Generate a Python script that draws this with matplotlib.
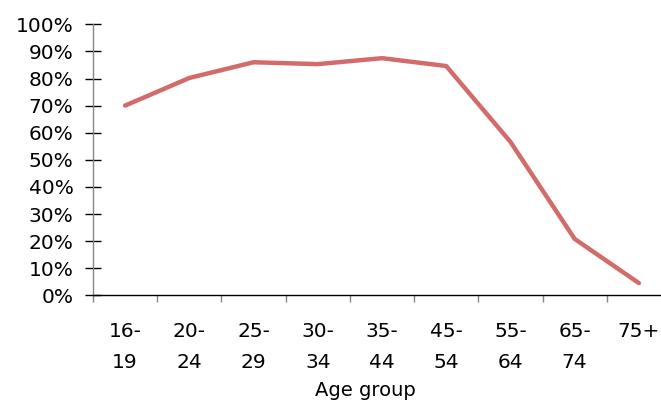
import matplotlib
matplotlib.use("Agg")
import matplotlib.pyplot as plt
import numpy as np

categories = ["16-\n19", "20-\n24", "25-\n29", "30-\n34", "35-\n44",
              "45-\n54", "55-\n64", "65-\n74", "75+\n"]
values = [70, 80.2, 86.0, 85.3, 87.5, 84.6, 56.6, 20.8, 4.5]
yticks = list(range(0, 101, 10))
xlabel = "Age group"

plt.rcParams['font.family'] = ['DejaVu Sans']

fig = plt.figure(figsize=(6.61, 4.0), dpi=100)
ax = fig.add_axes([93/661, 1 - 295.3/400, 578/661, 271/400])

x = np.arange(len(categories))
ax.plot(x, values, color="#D46B6B", lw=3.2, solid_capstyle="round",
        solid_joinstyle="round", clip_on=False)

ax.set_xlim(-0.5, len(categories) - 0.5)
ax.set_ylim(0, 100)

for s in ["top", "right"]:
    ax.spines[s].set_visible(False)
ax.spines["left"].set_color("#858585")
ax.spines["left"].set_linewidth(1.0)
ax.spines["bottom"].set_color("#000000")
ax.spines["bottom"].set_linewidth(1.0)

ax.set_yticks(yticks)
ax.set_yticklabels([f"{v}%" for v in yticks])
ax.tick_params(axis="y", direction="inout", length=11, width=1.0,
               color="#000000", labelsize=14.5, pad=8.5, labelcolor="#000000")

ax.set_xticks(x)
ax.set_xticklabels(categories, linespacing=1.85)
ax.set_xticks(np.arange(-0.5, len(categories) - 0.5, 1.0), minor=True)
ax.tick_params(axis="x", which="major", length=0, labelsize=14.5, pad=19)
ax.tick_params(axis="x", which="minor", direction="out", length=5,
               width=1.0, color="#858585")
for lbl in ax.get_xticklabels():
    lbl.set_verticalalignment("top")

fig.text(365/661, 1 - 390/400, xlabel, ha="center", va="center",
         fontsize=14)

fig.savefig("out.png", dpi=100)
